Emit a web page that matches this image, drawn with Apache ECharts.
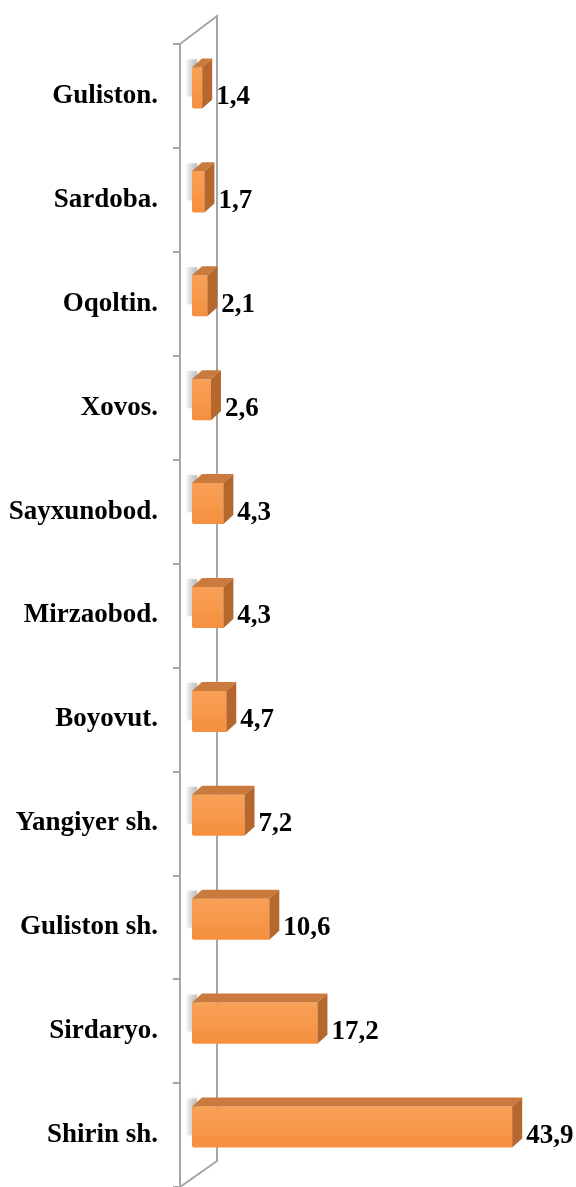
<!DOCTYPE html>
<html>
<head>
<meta charset="utf-8">
<script src="https://cdn.jsdelivr.net/npm/echarts@6/dist/echarts.min.js"></script>
<style>
  html, body { margin: 0; padding: 0; background: #fff; }
  #chart { width: 576px; height: 1187px; }
</style>
</head>
<body>
<div id="chart"></div>
<script>
var categories = ["Guliston.", "Sardoba.", "Oqoltin.", "Xovos.", "Sayxunobod.", "Mirzaobod.",
  "Boyovut.", "Yangiyer sh.", "Guliston sh.", "Sirdaryo.", "Shirin sh."];
var values = [1.4, 1.7, 2.1, 2.6, 4.3, 4.3, 4.7, 7.2, 10.6, 17.2, 43.9];

var FONT = 'bold 27px "Liberation Serif", "Times New Roman", serif';
var DEPTH = [10, -9];
var GAP = 12; // bars sit a little in front of the wall

var chart = echarts.init(document.getElementById("chart"));

function renderBar(params, api) {
  var v = api.value(0);
  var c = api.value(1);
  var p0 = api.coord([0, c]);
  var p1 = api.coord([v, c]);
  var bh = api.size([0, 1])[1] * 0.395;
  var x0 = p0[0] + GAP, x1 = p1[0] + GAP;
  var y0 = p0[1] - 8 - bh / 2;
  var dx = DEPTH[0], dy = DEPTH[1];
  return {
    type: "group",
    children: [
      // soft shadow on the wall
      {
        type: "rect",
        shape: { x: x0 - 7, y: y0 - 8, width: 12, height: bh - 4 },
        style: {
          fill: new echarts.graphic.LinearGradient(0, 0, 1, 0, [
            { offset: 0, color: "rgba(150,150,150,0)" },
            { offset: 1, color: "rgba(150,150,150,0.55)" },
          ]),
          shadowColor: "rgba(150,150,150,0.5)",
          shadowBlur: 4,
        },
      },
      {
        type: "rect",
        shape: { x: x0, y: y0, width: x1 - x0, height: bh, r: [0, 0, 0, 2] },
        style: {
          fill: new echarts.graphic.LinearGradient(0, 0, 0, 1, [
            { offset: 0, color: "#F8A055" },
            { offset: 1, color: "#F58F3F" },
          ]),
        },
      },
      {
        type: "polygon",
        shape: { points: [[x0, y0], [x1, y0], [x1 + dx, y0 + dy], [x0 + dx, y0 + dy]] },
        style: { fill: "#C97A3C" },
      },
      {
        type: "polygon",
        shape: { points: [[x1, y0], [x1 + dx, y0 + dy], [x1 + dx, y0 + bh + dy], [x1, y0 + bh]] },
        style: { fill: "#B5672D" },
      },
      {
        type: "text",
        style: {
          text: String(v).replace(".", ","),
          x: x1 + dx + 4,
          y: p0[1] + 1,
          verticalAlign: "middle",
          align: "left",
          font: FONT,
          fill: "#000",
        },
      },
    ],
  };
}

function renderWall(params, api) {
  var cs = params.coordSys;
  var lx = cs.x;
  var rx = lx + 37;
  var top = cs.y, bot = cs.y + cs.height;
  var st = { stroke: "#A6A6A6", lineWidth: 2, fill: null };
  return {
    type: "group",
    children: [
      { type: "polyline", shape: { points: [[lx, top], [rx, top - 28], [rx, bot - 26], [lx, bot]] }, style: st },
    ],
  };
}

var option = {
  animation: false,
  grid: { left: 180, right: 8, top: 44, bottom: -3 },
  xAxis: {
    type: "value",
    min: 0,
    max: 53.2,
    show: false,
  },
  yAxis: {
    type: "category",
    inverse: true,
    data: categories,
    axisLine: { show: true, lineStyle: { color: "#A6A6A6", width: 2 } },
    axisTick: { show: true, length: 7, lineStyle: { color: "#A6A6A6", width: 2 } },
    axisLabel: {
      margin: 22,
      color: "#000",
      fontFamily: '"Liberation Serif", "Times New Roman", serif',
      fontWeight: "bold",
      fontSize: 27,
    },
    splitLine: { show: false },
  },
  series: [
    {
      type: "custom",
      z: 1,
      silent: true,
      clip: false,
      renderItem: renderWall,
      data: [[0, 0]],
      encode: { x: 0, y: 1 },
    },
    {
      type: "custom",
      z: 3,
      clip: false,
      renderItem: renderBar,
      data: values.map(function (v, i) { return [v, i]; }),
      encode: { x: 0, y: 1 },
    },
  ],
};

chart.setOption(option, true);
</script>
</body>
</html>
